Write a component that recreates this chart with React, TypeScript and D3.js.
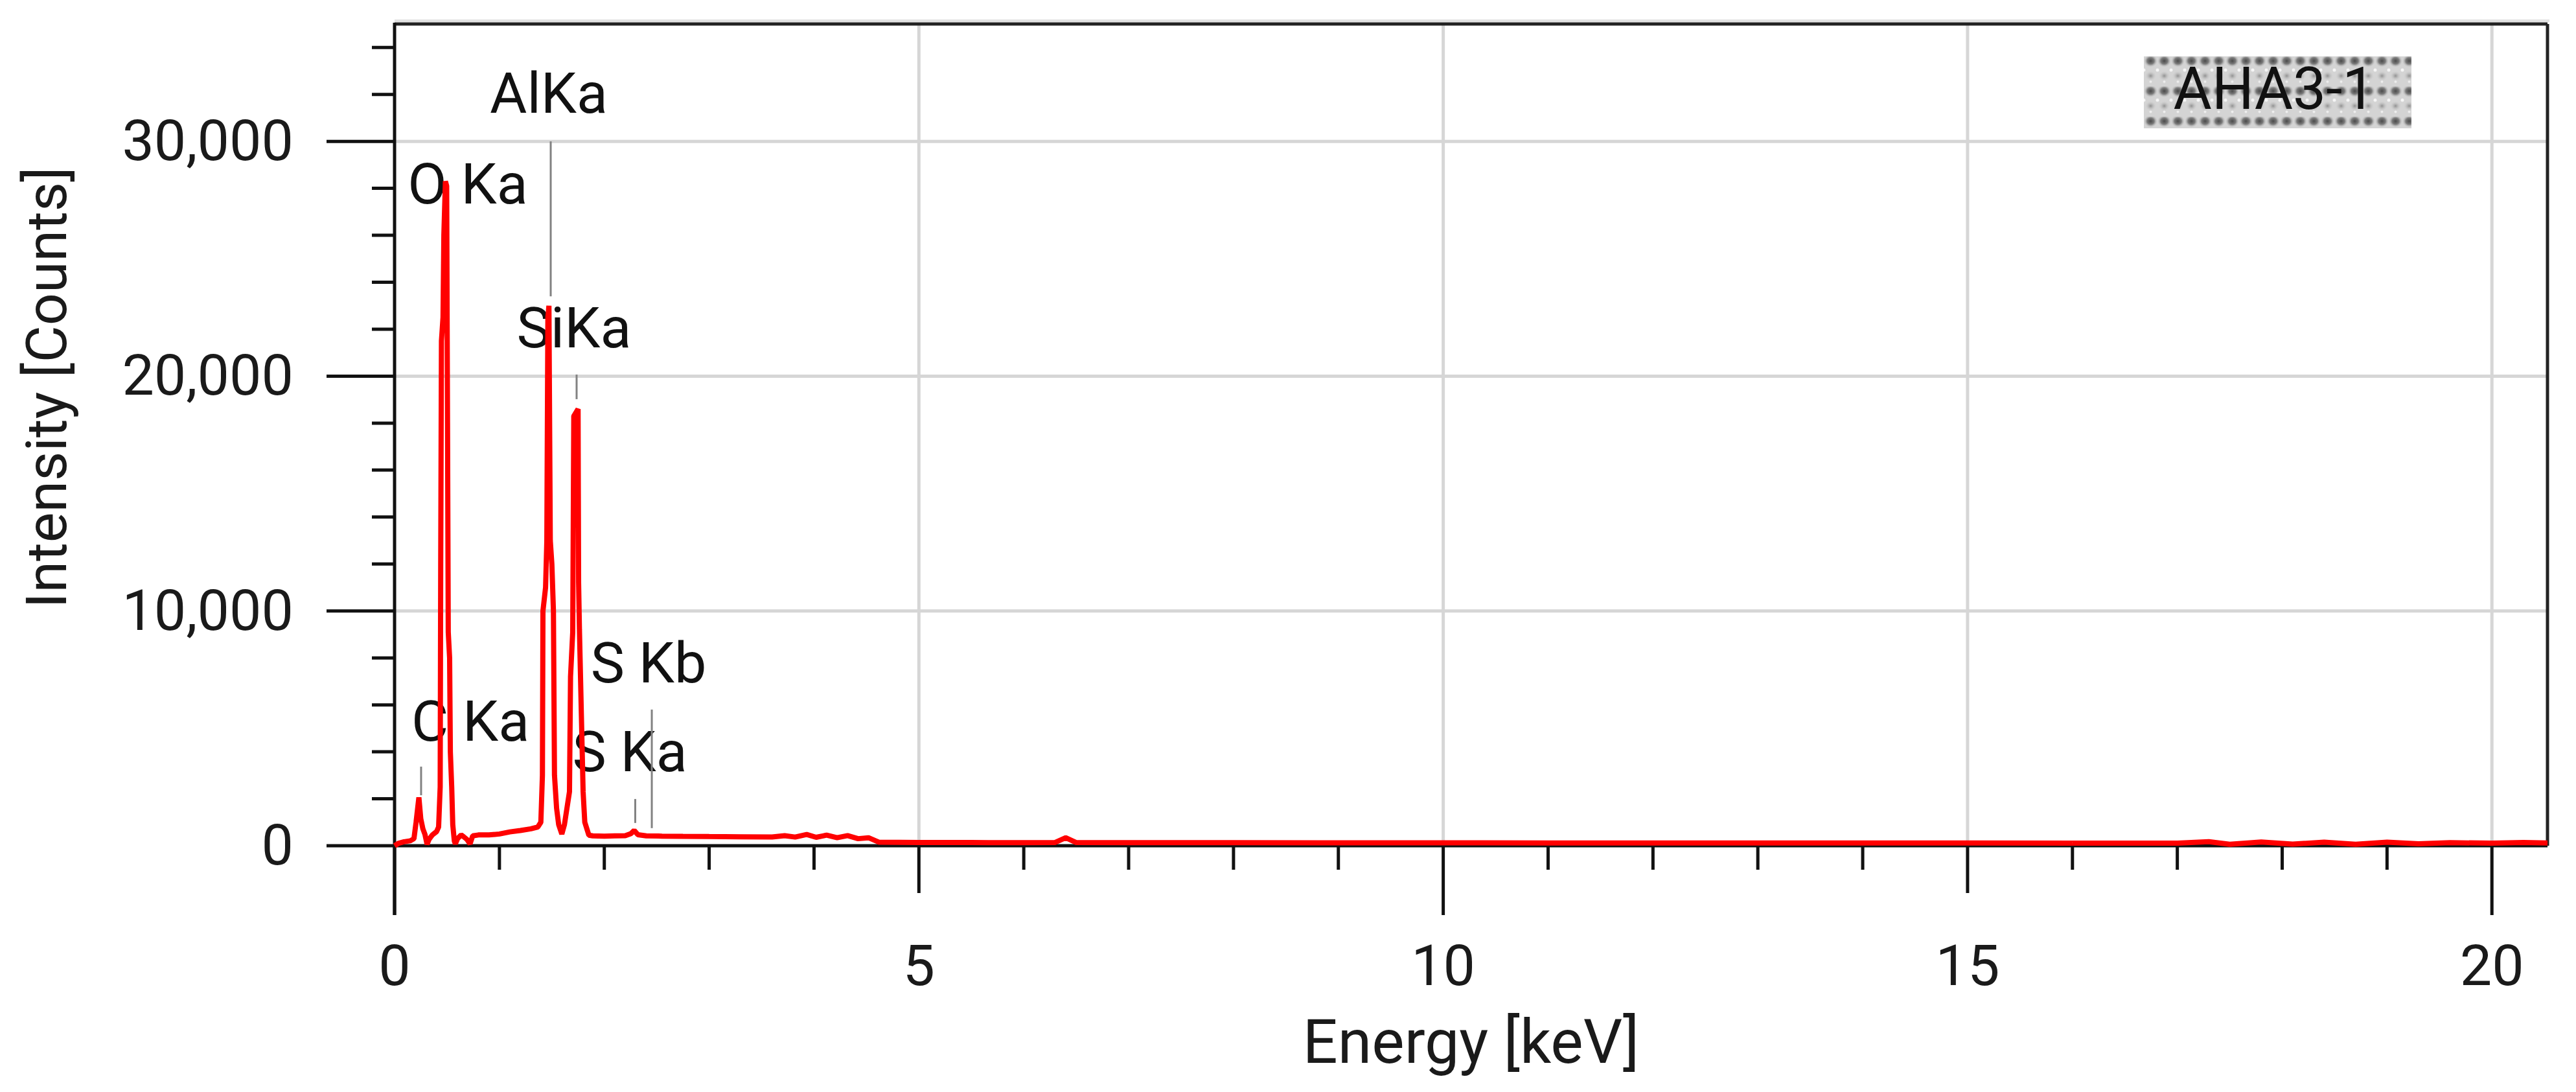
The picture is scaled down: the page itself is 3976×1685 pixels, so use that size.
import React from 'react';
import * as d3 from 'd3';

// ---- Spectrum points [energy keV, counts] ----
const spectrumPoints: [number, number][] = [
  [0.0, 0], [0.04, 110], [0.09, 170], [0.15, 210], [0.185, 300], [0.205, 1000], [0.232, 2060],
  [0.25, 1150], [0.27, 720], [0.29, 480], [0.31, 60], [0.33, 280], [0.36, 460], [0.4, 600], [0.42, 800],
  // O Ka
  [0.435, 2500], [0.44, 12000], [0.447, 21500], [0.462, 22500], [0.47, 26000], [0.485, 28300],
  [0.497, 28100], [0.505, 18000], [0.512, 9100], [0.525, 8000], [0.532, 4000], [0.545, 2500],
  [0.555, 900], [0.57, 200], [0.58, 80],
  [0.6, 300], [0.635, 460], [0.66, 380], [0.69, 270], [0.72, 80], [0.745, 420], [0.8, 460],
  [0.9, 460], [1.0, 500], [1.1, 590], [1.2, 650], [1.3, 720],
  // Al Ka
  [1.366, 800], [1.395, 1000], [1.41, 3000], [1.415, 10000], [1.44, 11000], [1.452, 13000],
  [1.462, 22500], [1.472, 23000], [1.485, 13000], [1.5, 12000], [1.515, 10000], [1.525, 3000],
  [1.545, 1600], [1.565, 900], [1.595, 500],
  // Si Ka
  [1.62, 900], [1.668, 2300], [1.678, 7200], [1.699, 9100], [1.709, 18300], [1.75, 18600],
  [1.755, 11200], [1.763, 9200], [1.798, 2300], [1.814, 1000], [1.853, 450], [1.89, 420],
  // S and background
  [2.0, 410], [2.1, 420], [2.2, 430], [2.255, 520], [2.285, 650], [2.32, 470], [2.4, 420],
  [2.55, 410], [2.75, 400], [3.0, 390], [3.3, 380], [3.6, 370], [3.72, 430], [3.82, 370],
  [3.93, 480], [4.02, 360], [4.12, 450], [4.22, 340], [4.32, 430], [4.42, 300], [4.52, 340],
  [4.62, 150], [5.0, 140], [5.5, 135], [6.0, 130], [6.3, 140], [6.4, 340], [6.5, 135],
  [7.0, 130], [8.0, 128], [9.0, 125], [10.0, 122], [11.0, 120], [12.0, 120], [13.0, 118],
  [14.0, 118], [15.0, 115], [16.0, 112], [17.0, 110], [17.3, 170], [17.5, 60], [17.8, 160],
  [18.1, 70], [18.4, 150], [18.7, 60], [19.0, 150], [19.3, 80], [19.6, 130], [20.0, 110],
  [20.3, 140], [20.53, 120],
];

// ---- Axes ----
const xMajorTicks = [0, 5, 10, 15, 20];
const xMinorTicks = [1, 2, 3, 4, 6, 7, 8, 9, 11, 12, 13, 14, 16, 17, 18, 19];
const yMajorTicks = [0, 10000, 20000, 30000];
const yMinorTicks = [2000, 4000, 6000, 8000, 12000, 14000, 16000, 18000, 22000, 24000, 26000, 28000, 32000, 34000];
const xGridTicks = [5, 10, 15, 20];
const yGridTicks = [10000, 20000, 30000];
const xTitle = 'Energy [keV]';
const yTitle = 'Intensity [Counts]';
const sampleName = 'AHA3-1';

// ---- Peak labels and marker lines ----
const peakLabels = ['AlKa', 'O Ka', 'SiKa', 'C Ka', 'S Kb', 'S Ka'];
const labelKeV = [1.47, 0.698, 1.711, 0.723, 2.422, 2.243];
const labelCounts = [31220, 27350, 21225, 4470, 6955, 3175];
const markerKeV = [0.253, 0.49, 1.489, 1.736, 2.295, 2.453];
const markerTop = [3370, 28000, 30000, 20070, 1990, 5800];
const markerBottom = [2150, 25700, 23400, 19020, 970, 750];

const W = 3976;
const H = 1685;
const FONT = 'Roboto, "Noto Sans", sans-serif';

export default function App() {
  const left = 609, right = 3932, top = 37, bottom = 1305;
  const x = d3.scaleLinear().domain([0, 20.53]).range([left, right]);
  const y = d3.scaleLinear().domain([0, 35000]).range([bottom, top]);
  const line = d3.line<[number, number]>().x(d => x(d[0])).y(d => y(d[1]));
  const fmt = d3.format(',');
  const longTick = 107, midTick = 73, shortTick = 37;
  const yLong = 105, yShort = 35;
  const boxX = 3309, boxY = 87, boxW = 413, boxH = 111;

  return (
    <svg width={W} height={H} viewBox={`0 0 ${W} ${H}`} style={{ position: 'absolute', left: 0, top: 0, background: '#fff' }}>
      <defs>
        <radialGradient id="dotGrad">
          <stop offset="0%" stopColor="#4a4a4a" />
          <stop offset="50%" stopColor="#7c7c7c" />
          <stop offset="100%" stopColor="#d2d2d2" stopOpacity="0" />
        </radialGradient>
        <radialGradient id="midGrad">
          <stop offset="0%" stopColor="#8e8e8e" />
          <stop offset="100%" stopColor="#d2d2d2" stopOpacity="0" />
        </radialGradient>
        <pattern id="dots" width="21" height="46.5" patternUnits="userSpaceOnUse" x={boxX} y={boxY}>
          <rect width="21" height="46.5" fill="#d4d4d4" />
          <ellipse cx="10.5" cy="7" rx="11" ry="10" fill="url(#dotGrad)" />
          <ellipse cx="10.5" cy="30" rx="9" ry="8" fill="url(#midGrad)" />
          <circle cx="0" cy="21" r="2.5" fill="#f6f6f6" />
          <circle cx="21" cy="21" r="2.5" fill="#f6f6f6" />
          <circle cx="10.5" cy="39" r="2" fill="#eeeeee" />
        </pattern>
      </defs>
      <rect x={0} y={0} width={W} height={H} fill="#fff" />

      {/* grid */}
      {xGridTicks.map(t => (
        <line key={'gx' + t} x1={x(t)} x2={x(t)} y1={top} y2={bottom} stroke="#d6d6d6" strokeWidth={5} />
      ))}
      {yGridTicks.map(t => (
        <line key={'gy' + t} x1={left} x2={right} y1={y(t)} y2={y(t)} stroke="#d6d6d6" strokeWidth={5} />
      ))}

      {/* frame with faint shadow */}
      <line x1={left} x2={right + 3} y1={top - 5} y2={top - 5} stroke="#e2e2e2" strokeWidth={4} />
      <line x1={left} x2={right} y1={top} y2={top} stroke="#222" strokeWidth={5} />
      <line x1={right} x2={right} y1={top} y2={bottom} stroke="#222" strokeWidth={5} />

      {/* sample name box */}
      <rect x={boxX} y={boxY} width={boxW} height={boxH} fill="url(#dots)" />
      <text x={boxX + boxW / 2 - 5} y={168} textAnchor="middle" fontFamily={FONT} fontSize={91} fill="#111">{sampleName}</text>

      {/* peak labels */}
      {peakLabels.map((s, i) => (
        <text key={'pl' + i} x={x(labelKeV[i])} y={y(labelCounts[i])} textAnchor="middle" fontFamily={FONT} fontSize={88} fill="#111" style={{ whiteSpace: 'pre' }}>{s}</text>
      ))}

      {/* marker lines */}
      {markerKeV.map((e, i) => (
        <line key={'mk' + i} x1={x(e)} x2={x(e)} y1={y(markerTop[i])} y2={y(markerBottom[i])} stroke="#828282" strokeWidth={3} />
      ))}

      {/* y axis */}
      <line x1={left} x2={left} y1={top - 2} y2={bottom + longTick} stroke="#111" strokeWidth={5} />
      {yMinorTicks.map(t => (
        <line key={'ymi' + t} x1={left - yShort} x2={left} y1={y(t)} y2={y(t)} stroke="#111" strokeWidth={5} />
      ))}
      {yMajorTicks.map(t => (
        <g key={'yma' + t}>
          <line x1={left - yLong} x2={left} y1={y(t)} y2={y(t)} stroke="#111" strokeWidth={5} />
          <text x={453} y={y(t) + 29} textAnchor="end" fontFamily={FONT} fontSize={88} fill="#1a1a1a">{fmt(t)}</text>
        </g>
      ))}
      <text transform={`translate(102, 598) rotate(-90)`} textAnchor="middle" fontFamily={FONT} fontSize={88} fill="#1a1a1a">{yTitle}</text>

      {/* x axis */}
      <line x1={left} x2={right} y1={bottom} y2={bottom} stroke="#111" strokeWidth={5} />
      {xMinorTicks.map(t => (
        <line key={'xmi' + t} x1={x(t)} x2={x(t)} y1={bottom} y2={bottom + shortTick} stroke="#111" strokeWidth={5} />
      ))}
      {xMajorTicks.map(t => (
        <g key={'xma' + t}>
          <line x1={x(t)} x2={x(t)} y1={bottom} y2={bottom + (t % 10 === 0 ? longTick : midTick)} stroke="#111" strokeWidth={5} />
          <text x={x(t)} y={1520} textAnchor="middle" fontFamily={FONT} fontSize={88} fill="#1a1a1a">{String(t)}</text>
        </g>
      ))}
      <text x={(left + right) / 2} y={1640} textAnchor="middle" fontFamily={FONT} fontSize={95} fill="#1a1a1a">{xTitle}</text>

      {/* spectrum */}
      <path d={line(spectrumPoints) || ''} fill="none" stroke="#ff0000" strokeWidth={8} strokeLinejoin="bevel" />
    </svg>
  );
}
